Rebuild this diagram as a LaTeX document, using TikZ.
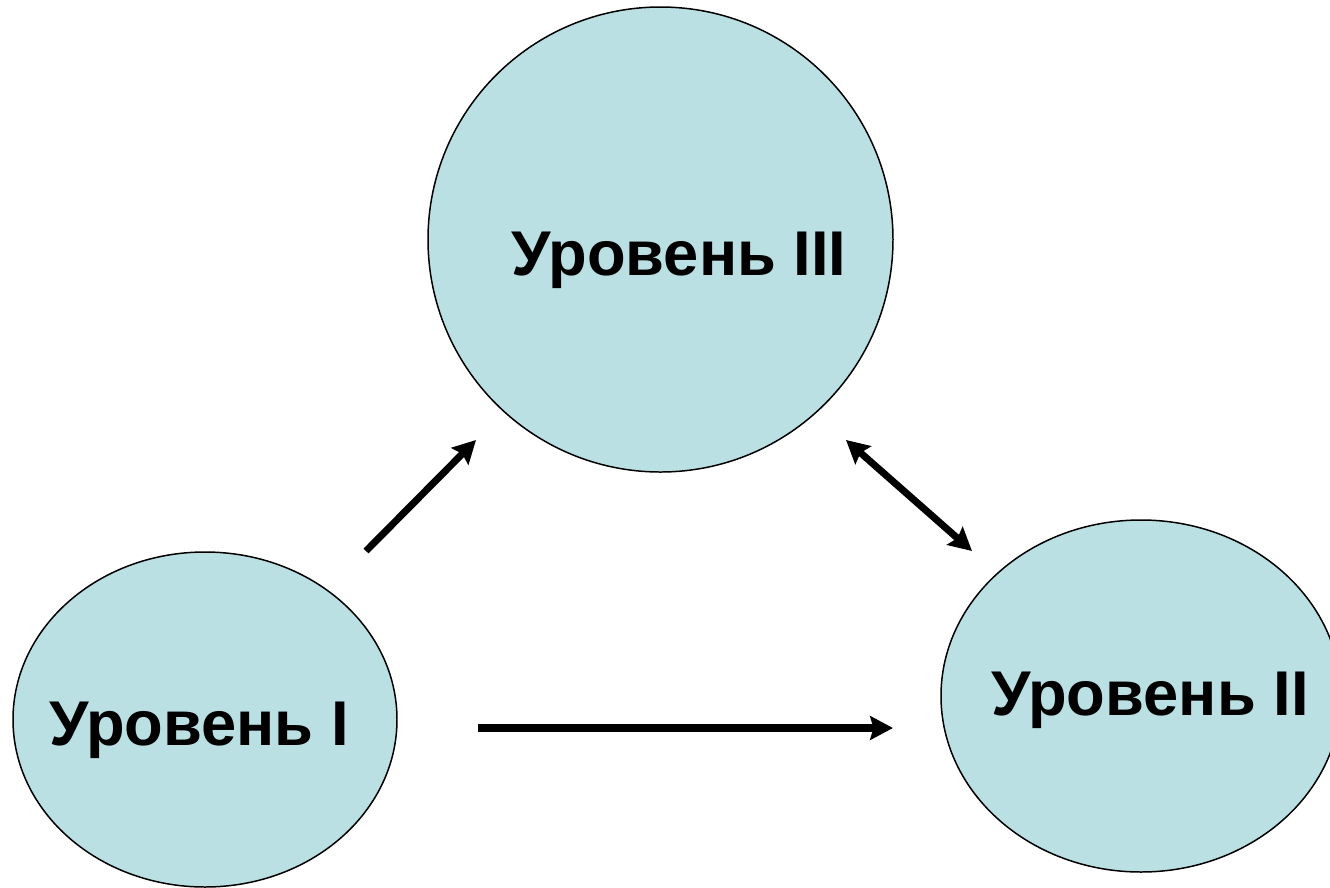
\documentclass[tikz,border=0pt]{standalone}
\usepackage{fontspec}
\setmainfont{Liberation Sans}
\usetikzlibrary{arrows.meta,shapes.geometric}
\definecolor{levelfill}{RGB}{186,224,228}
\tikzset{
     level/.style={ellipse, draw=black, line width=0.85pt, fill=levelfill, inner sep=0pt},
     leveltext/.style={font=\fontsize{36}{40}\selectfont\bfseries, inner sep=0pt, anchor=base},
     link/.style={line width=4pt, -{Stealth[length=13pt,width=13.5pt,inset=2pt]}},
     biglink/.style={link, {Stealth[length=13pt,width=13.5pt,inset=2pt]}-{Stealth[length=13pt,width=13.5pt,inset=2pt]}},
}
\def\ux{0.02cm}
\def\uy{-0.02cm}

\begin{document}
\begin{tikzpicture}[x=\ux,y=\uy]
		\clip (0,0) rectangle (1330,887);
		\useasboundingbox (0,0) rectangle (1330,887);

		\node[level, minimum width=465*\ux, minimum height=465*0.02cm] (lvl3) at (660.5,239.5) {};
		\node[level, minimum width=384*\ux, minimum height=335*0.02cm] (lvl1) at (205,719.5) {};
		\node[level, minimum width=400*\ux, minimum height=352*0.02cm] (lvl2) at (1141,696) {};

		\node[leveltext] (t3) at (679,275) {Уровень III};
		\node[leveltext] (t1) at (199,745) {Уровень I};
		\node[leveltext] (t2) at (1150,715) {Уровень II};

		\coordinate (a1s) at (366,551);
		\coordinate (a1e) at (476,440);
		\coordinate (a2s) at (846,440);
		\coordinate (a2e) at (972,551);
		\coordinate (a3s) at (478,728);
		\coordinate (a3e) at (893,728);

		\draw[link] (a1s) -- (a1e);
		\draw[biglink] (a2s) -- (a2e);
		\draw[link] (a3s) -- (a3e);
\end{tikzpicture}
\end{document}
